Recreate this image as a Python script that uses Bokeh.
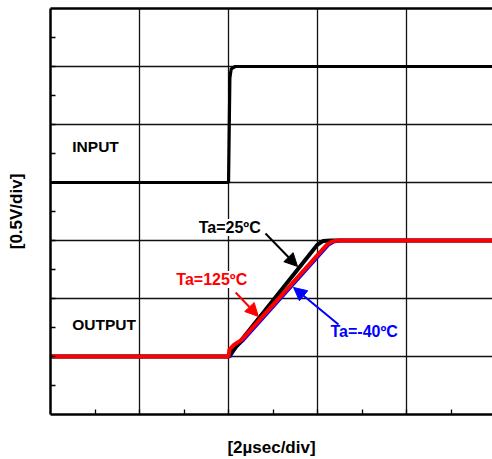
from bokeh.plotting import figure
from bokeh.models import (Range1d, FixedTicker, LinearAxis, Label, Arrow, NormalHead)
from bokeh.embed import file_html
from bokeh.resources import INLINE

# Time axis in microseconds (2 us/div), voltage axis in volts (0.5 V/div)
x_major = [2, 4, 6, 8]
x_minor = [1, 3, 5, 7, 9]
y_major = [0.5, 1.0, 1.5, 2.0, 2.5, 3.0]
y_ticks = [0.25 * i for i in range(1, 14)]

# Input step
input_t = [0.0, 4.0, 4.03, 4.06, 4.15, 9.93]
input_v = [2.0, 2.0, 2.9, 2.98, 3.0, 3.0]

# Output waveforms at three ambient temperatures
out25_t = [0.0, 4.0, 4.08, 6.0, 6.12, 6.3, 9.93]
out25_v = [0.5, 0.5, 0.54, 1.465, 1.495, 1.5, 1.5]

out125_t = [0.0, 4.0, 4.02, 4.12, 4.3, 6.2, 6.32, 6.45, 9.93]
out125_v = [0.5, 0.5, 0.56, 0.6, 0.645, 1.46, 1.49, 1.5, 1.5]

outm40_t = [0.0, 4.03, 4.16, 4.34, 6.24, 6.36, 6.5, 9.93]
outm40_v = [0.5, 0.5, 0.58, 0.645, 1.46, 1.49, 1.5, 1.5]

FONT = "Liberation Sans"

p = figure(width=492, height=459, x_range=Range1d(0, 9.93), y_range=Range1d(0, 3.5),
           output_backend="svg", toolbar_location=None,
           min_border_left=50, min_border_right=0, min_border_top=8, min_border_bottom=45)
p.outline_line_color = None
p.background_fill_color = "white"
p.border_fill_color = "white"

# grid
p.xgrid.ticker = FixedTicker(ticks=x_major)
p.ygrid.ticker = FixedTicker(ticks=y_major)
for g in (p.xgrid, p.ygrid):
    g.grid_line_color = "#111111"
    g.grid_line_width = 1.3
    g.grid_line_alpha = 1.0

# axes: short inward ticks (drawn as minor ticks so no tick labels are produced)
for ax in (p.xaxis[0], p.yaxis[0]):
    ax.axis_line_color = "black"
    ax.axis_line_width = 2.5
    ax.major_tick_in = 0
    ax.major_tick_out = 0
    ax.minor_tick_in = 5
    ax.minor_tick_out = 0
    ax.minor_tick_line_color = "black"
    ax.minor_tick_line_width = 1.3
    ax.major_label_standoff = 0
    ax.axis_label_text_font = FONT
    ax.axis_label_text_font_style = "bold"
    ax.axis_label_text_font_size = "17px"
    ax.axis_label_text_color = "black"
p.xaxis[0].ticker = FixedTicker(ticks=[], minor_ticks=x_minor + x_major)
p.yaxis[0].ticker = FixedTicker(ticks=[], minor_ticks=y_ticks)
p.xaxis[0].axis_label = "[2µsec/div]"
p.yaxis[0].axis_label = "[0.5V/div]"
p.xaxis[0].axis_label_standoff = 23
p.yaxis[0].axis_label_standoff = 25

# top border
top = LinearAxis(ticker=FixedTicker(ticks=[], minor_ticks=[]), axis_line_width=2.5,
                 axis_line_color="black",
                 major_tick_in=0, major_tick_out=0, minor_tick_in=0, minor_tick_out=0,
                 major_label_standoff=0)
p.add_layout(top, "above")

# waveforms
p.line(input_t, input_v, line_color="black", line_width=3.2)
p.line(outm40_t, outm40_v, line_color="#0000ff", line_width=3.5)
p.line(out25_t, out25_v, line_color="black", line_width=4)
p.line(out125_t, out125_v, line_color="#ff0000", line_width=4)

# labels
def add_label(x, y, text, color, size="16px", align="left", bg=None):
    p.add_layout(Label(x=x, y=y, text=text, text_color=color, text_font=FONT,
                       text_font_style="bold", text_font_size=size,
                       text_baseline="middle", text_align=align,
                       background_fill_color=bg))

add_label(0.49, 2.31, "INPUT", "black", size="15.5px")
add_label(0.49, 0.776, "OUTPUT", "black", size="15.5px", bg="white")
add_label(3.33, 1.612, "Ta=25ºC", "black", bg="white")
add_label(4.42, 1.164, "Ta=125ºC", "#ff0000", align="right", bg="white")
add_label(6.29, 0.716, "Ta=-40ºC", "#0000ff", bg="white")

# arrows pointing at each trace
arrows = [
    ((4.83, 1.560), (5.55, 1.276), "black"),
    ((4.16, 1.052), (4.67, 0.845), "#ff0000"),
    ((6.47, 0.776), (5.46, 1.095), "#0000ff"),
]
for (xs, ys), (xe, ye), c in arrows:
    p.add_layout(Arrow(x_start=xs, y_start=ys, x_end=xe, y_end=ye, line_color=c, line_width=2,
                       end=NormalHead(size=13, fill_color=c, line_color=c)))

open("out.html", "w").write(file_html(p, INLINE))
